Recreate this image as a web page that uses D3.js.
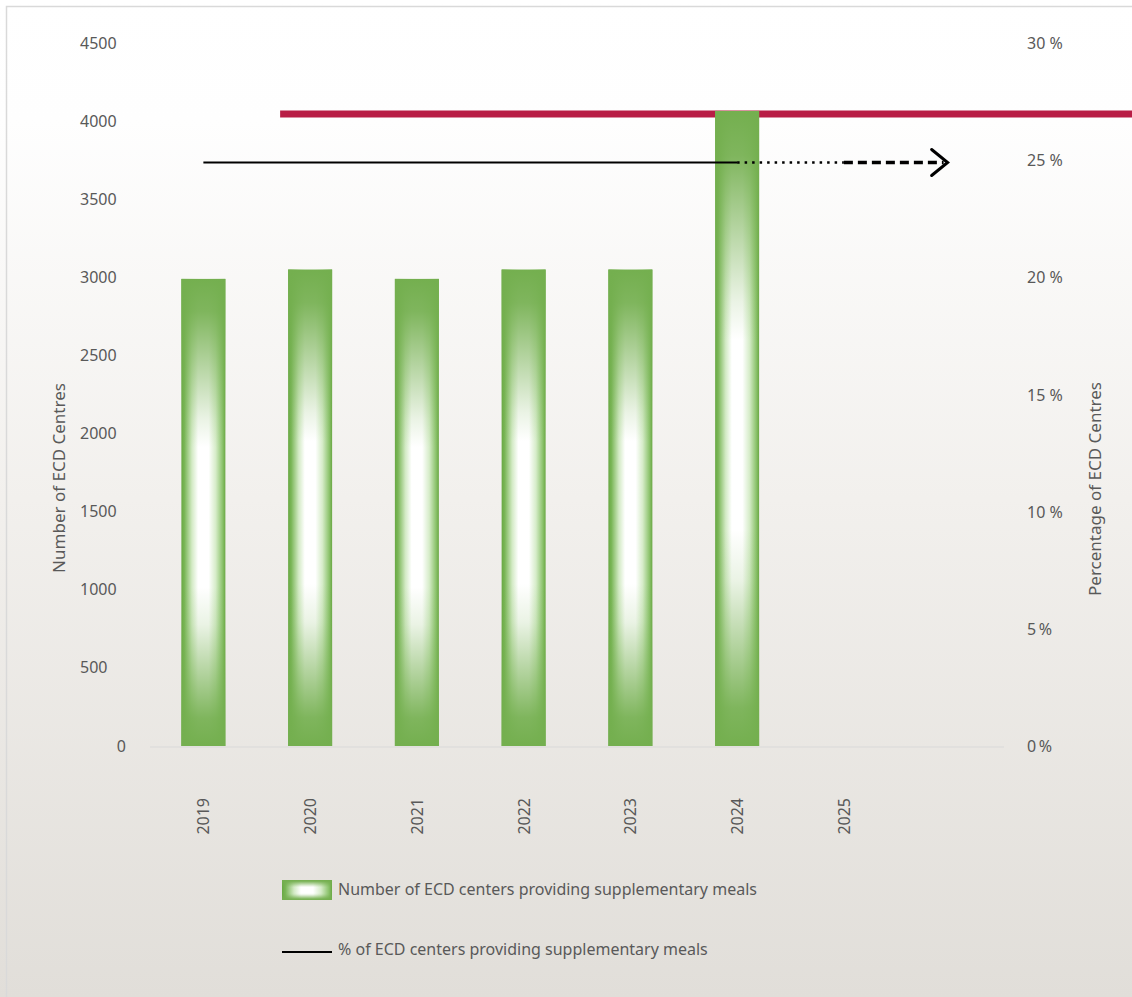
<!DOCTYPE html>
<html><head><meta charset="utf-8">
<script src="https://cdn.jsdelivr.net/npm/d3@7"></script>
<style>body{margin:0;padding:0;overflow:hidden}svg{display:block}text{font-family:"Noto Sans",sans-serif;fill:#595959}</style>
</head><body>
<script>
const categories = ["2019","2020","2021","2022","2023","2024","2025",""];
const centres = [2990, 3050, 2990, 3050, 3050, 4065];
const percentActual = [24.9, 24.9, 24.9, 24.9, 24.9, 24.9];
const percentProjected = [24.9, 24.9];   // 2024 -> 2025 (dotted)
const percentTarget = [24.9, 24.9];      // 2025 -> next (dashed arrow)
const targetLevel = 27;
const leftTicks = [0,500,1000,1500,2000,2500,3000,3500,4000,4500];
const rightTicks = [0,5,10,15,20,25,30];
const legendLabels = ["Number of ECD centers providing supplementary meals","% of ECD centers providing supplementary meals"];

const W=1132,H=997;
const svg=d3.select("body").append("svg").attr("width",W).attr("height",H);
const defs=svg.append("defs");
const bg=defs.append("linearGradient").attr("id","bg").attr("x1",0).attr("y1",0).attr("x2",0).attr("y2",1);
bg.append("stop").attr("offset","0").attr("stop-color","#ffffff");
bg.append("stop").attr("offset","0.12").attr("stop-color","#fefefe");
bg.append("stop").attr("offset","0.5").attr("stop-color","#f2f0ed");
bg.append("stop").attr("offset","1").attr("stop-color","#e1ded9");
svg.append("rect").attr("width",W).attr("height",H).attr("fill","url(#bg)");
svg.append("rect").attr("x",6.5).attr("y",6.5).attr("width",W+10).attr("height",H+10).attr("fill","none").attr("stroke","#d9d9d9").attr("stroke-width",1.5);

const gh=defs.append("linearGradient").attr("id","gh").attr("x1",0).attr("y1",0).attr("x2",1).attr("y2",0);
[[0,"#68a843"],[0.07,"#7ab657"],[0.24,"#d3eac5"],[0.38,"#ffffff"],[0.62,"#ffffff"],[0.78,"#d6ecc9"],[0.93,"#8ec46f"],[1,"#6aa844"]].forEach(s=>gh.append("stop").attr("offset",s[0]).attr("stop-color",s[1]));
const gv=defs.append("linearGradient").attr("id","gv").attr("x1",0).attr("y1",0).attr("x2",0).attr("y2",1);
[[0,1],[0.07,0.92],[0.3,0.15],[0.36,0],[0.66,0],[0.74,0.15],[0.94,0.92],[1,1]].forEach(s=>gv.append("stop").attr("offset",s[0]).attr("stop-color","#74af4f").attr("stop-opacity",s[1]));

const x=d3.scaleBand().domain(categories).range([150,1004]).paddingInner(0.588).paddingOuter(0.294);
const yL=d3.scaleLinear().domain([0,4500]).range([746,43]);
const yR=d3.scaleLinear().domain([0,30]).range([746,43]);
const cx=c=>x(c)+x.bandwidth()/2;

// axis line
svg.append("line").attr("x1",150).attr("x2",1004).attr("y1",747).attr("y2",747).attr("stroke","#d9d9d9").attr("stroke-width",1);

// left ticks
const gL=svg.append("g");
gL.selectAll("text").data(leftTicks).join("text")
  .attr("x",d=>d===0?126:80).attr("text-anchor",d=>d===0?"end":"start")
  .attr("y",d=>yL(d)).attr("dy","0.35em").style("font-size","16px").text(d=>d3.format("d")(d));
// right ticks
const ra=d3.axisRight(yR).tickValues(rightTicks).tickSize(0).tickPadding(0).tickFormat(d=>d+(d<10?"\u2009%":" %"));
const gR=svg.append("g").attr("transform","translate(1027,0)").call(ra);
gR.select(".domain").remove();
gR.selectAll("text").style("font-size","16px").attr("fill","#595959").attr("dy","0.35em");

// axis titles
svg.append("text").attr("transform","translate(65,478) rotate(-90)").attr("text-anchor","middle").style("font-size","17px").text("Number of ECD Centres");
svg.append("text").attr("transform","translate(1101,489) rotate(-90)").attr("text-anchor","middle").style("font-size","17px").text("Percentage of ECD Centres");

// target red line (behind bars)
svg.append("line").attr("x1",cx("2020")-30).attr("x2",W).attr("y1",yR(targetLevel)+0.8).attr("y2",yR(targetLevel)+0.8).attr("stroke","#b81d45").attr("stroke-width",7);

// bars
const bars=svg.append("g");
centres.forEach((v,i)=>{
  const c=categories[i];
  bars.append("rect").attr("x",x(c)).attr("y",yL(v)).attr("width",x.bandwidth()).attr("height",yL(0)-yL(v)).attr("fill","url(#gh)");
  bars.append("rect").attr("x",x(c)).attr("y",yL(v)).attr("width",x.bandwidth()).attr("height",yL(0)-yL(v)).attr("fill","url(#gv)");
});

// x labels
categories.forEach(c=>{
  if(!c) return;
  svg.append("text").attr("transform",`translate(${cx(c)+6},798) rotate(-90)`).attr("text-anchor","end").style("font-size","16px").text(c);
});

// percent line
const line=d3.line().x(d=>d[0]).y(d=>yR(d[1]));
svg.append("path").attr("d",line(percentActual.map((v,i)=>[cx(categories[i]),v]))).attr("fill","none").attr("stroke","#000").attr("stroke-width",1.8);
svg.append("path").attr("d",line(percentProjected.map((v,i)=>[cx(categories[5+i]),v]))).attr("fill","none").attr("stroke","#000").attr("stroke-width",2.4).attr("stroke-dasharray","2.5,5");
const p0=[cx(categories[6]),percentTarget[0]], p1=[cx(categories[7])-3,percentTarget[1]];
svg.append("path").attr("d",line([p0,[p1[0]-4,p1[1]]])).attr("fill","none").attr("stroke","#000").attr("stroke-width",3.4).attr("stroke-dasharray","9,5");
svg.append("path").attr("d",`M${p1[0]-16},${yR(p1[1])-13}L${p1[0]},${yR(p1[1])}L${p1[0]-16},${yR(p1[1])+13}`).attr("fill","none").attr("stroke","#000").attr("stroke-width",3).attr("stroke-linecap","round").attr("stroke-linejoin","miter");

// legend
const lg=svg.append("g");
lg.append("rect").attr("x",282).attr("y",880).attr("width",50).attr("height",20).attr("fill","url(#gh)");
lg.append("rect").attr("x",282).attr("y",880).attr("width",50).attr("height",20).attr("fill","url(#gv)");
lg.append("text").attr("x",338).attr("y",889).attr("dy","0.35em").style("font-size","16px").text(legendLabels[0]);
lg.append("line").attr("x1",282).attr("x2",332).attr("y1",952).attr("y2",952).attr("stroke","#000").attr("stroke-width",1.8);
lg.append("text").attr("x",338).attr("y",949).attr("dy","0.35em").style("font-size","16px").text(legendLabels[1]);
</script>
</body></html>
